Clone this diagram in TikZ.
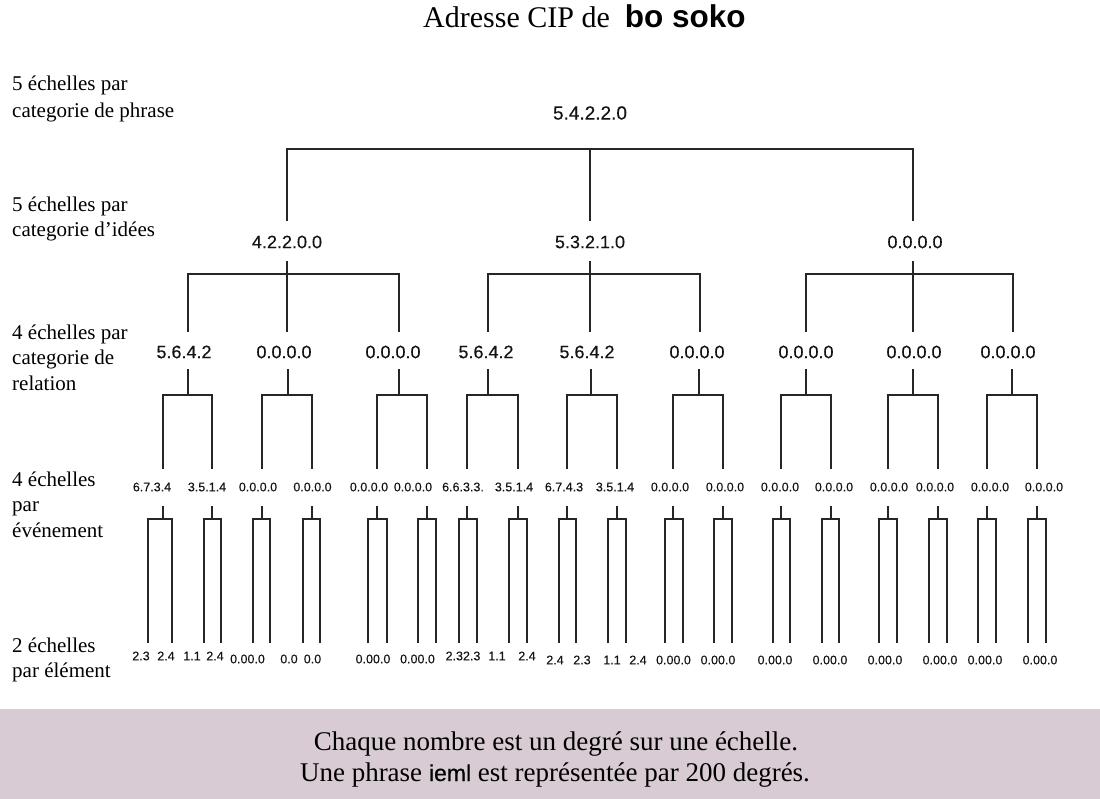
\documentclass[tikz,border=0pt]{standalone}
\usepackage{fontspec}
\setmainfont{Liberation Serif}
\newfontfamily\numfontb{Liberation Sans}[FakeBold=0.3]
\newfontfamily\numfonts{Liberation Sans}[FakeBold=0.2]
\newfontfamily\heavysans{Liberation Sans Bold}
\definecolor{boxfill}{HTML}{D8CBD3}
\definecolor{linecol}{HTML}{262626}
\definecolor{numcol}{HTML}{141414}
\begin{document}
\begin{tikzpicture}[x=1pt,y=-1pt,
  link/.style={line width=1.8pt,draw=linecol},
  bignum/.style={inner sep=0,text=numcol,font=\numfontb\fontsize{19}{19}\selectfont},
  num/.style={inner sep=0,text=numcol,font=\numfontb\fontsize{18}{18}\selectfont},
  smallnum/.style={inner sep=0,text=numcol,font=\numfonts\fontsize{12.5}{13}\selectfont},
  lab/.style={inner sep=0,anchor=base west,font=\fontsize{21}{25}\selectfont},
  foot/.style={inner sep=0,anchor=base,font=\fontsize{27}{31}\selectfont}]
\useasboundingbox (0,0) rectangle (1100,799);
% footer box
\fill[boxfill] (0,709) rectangle (1100,799);
\node[foot] (foot1) at (556,750) {Chaque nombre est un degré sur une échelle.};
\node[foot] (foot2) at (555,781) {Une phrase {\numfontb\fontsize{23}{27}\selectfont ieml} est représentée par 200 degrés.};
% title
\node[inner sep=0,anchor=base west] (title) at (423,28)
  {\fontsize{30}{30}\selectfont Adresse CIP de\hspace{15pt}{\heavysans\fontsize{31.5}{31.5}\selectfont bo soko}};
% left labels
\node[lab] (l1a) at (12,91) {5 échelles par};
\node[lab] (l1b) at (12,118) {categorie de phrase};
\node[lab] (l2a) at (12,212) {5 échelles par};
\node[lab] (l2b) at (12,237) {categorie d’idées};
\node[lab] (l3a) at (12,340) {4 échelles par};
\node[lab] (l3b) at (12,365) {categorie de};
\node[lab] (l3c) at (12,390) {relation};
\node[lab] (l4a) at (12,486) {4 échelles};
\node[lab] (l4b) at (12,511) {par};
\node[lab] (l4c) at (12,537) {événement};
\node[lab] (l5a) at (12,652) {2 échelles};
\node[lab] (l5b) at (12,677) {par élément};
% level 1
\node[bignum] (r) at (590,113) {5.4.2.2.0};
% level 2
\node[num] (a) at (287,242) {4.2.2.0.0};
\node[num] (b) at (590,242) {5.3.2.1.0};
\node[num] (c) at (915,242) {0.0.0.0};
% level 3
\foreach \n/\x/\t in {a1/184/5.6.4.2, a2/284/0.0.0.0, a3/393/0.0.0.0,
                      b1/486/5.6.4.2, b2/587/5.6.4.2, b3/697/0.0.0.0,
                      c1/806/0.0.0.0, c2/914/0.0.0.0, c3/1008/0.0.0.0}
  \node[num] (\n) at (\x,352) {\t};
% level 4
\foreach \n/\x/\t in {e1/152/6.7.3.4, e2/207/3.5.1.4, e3/258/0.0.0.0, e4/312.5/0.0.0.0,
                      e5/369/0.0.0.0, e6/413/0.0.0.0, e7/463/6.6.3.3., e8/514/3.5.1.4,
                      e9/564/6.7.4.3, e10/615/3.5.1.4, e11/670/0.0.0.0, e12/725/0.0.0.0,
                      e13/780/0.0.0.0, e14/834/0.0.0.0, e15/889/0.0.0.0, e16/935/0.0.0.0,
                      e17/990/0.0.0.0, e18/1044/0.0.0.0}
  \node[smallnum] (\n) at (\x,487) {\t};
% level 5
\foreach \n/\x/\y/\t in {f1/141/656/2.3, f2/166/656/2.4, f3/192/656/1.1, f4/215/656/2.4,
                         f5/247.5/659/0.00.0, f6/289/659/0.0, f7/312.5/659/0.0,
                         f8/373/659/0.00.0, f9/417.5/659/0.00.0,
                         f10/463/656/2.32.3, f11/497/656/1.1, f12/527/656/2.4,
                         f13/555/660/2.4, f14/582/660/2.3, f15/612/660/1.1, f16/638/660/2.4,
                         f17/673.5/660/0.00.0, f18/718/660/0.00.0,
                         f19/775/660/0.00.0, f20/830/660/0.00.0, f21/885/660/0.00.0,
                         f22/940/660/0.00.0, f23/985/660/0.00.0, f24/1040/660/0.00.0}
  \node[smallnum] (\n) at (\x,\y) {\t};
% level 1 -> 2 bracket
\draw[link] (287,221) -- (287,149) -- (913,149) -- (913,221);
\draw[link] (590,149) -- (590,221);
% level 2 -> 3 brackets
\foreach \s/\l/\m/\r in {287/188/287/399, 590/488/590/700, 913/806/913/1013}{
  \draw[link] (\s,261) -- (\s,274);
  \draw[link] (\l,332) -- (\l,274) -- (\r,274) -- (\r,332);
  \draw[link] (\m,274) -- (\m,332);
}
% level 3 -> 4 brackets
\foreach \s/\l/\r in {188/163/212, 288/262/312, 399/377/427, 488/467/518, 591/567/617,
                      699/673/723, 806/781/831, 913/888/938, 1012/987/1037}{
  \draw[link] (\s,369) -- (\s,395);
  \draw[link] (\l,469) -- (\l,395) -- (\r,395) -- (\r,469);
}
% level 4 -> 5 brackets
\foreach \s/\l/\r in {163/148/172, 212/204/221, 262/253/270, 312/303/320, 377/368/387,
                      427/418/436, 467/459/477, 518/509/527, 567/559/576, 617/608/626,
                      673/665/683, 723/714/732, 781/773/790, 831/822/839, 888/879/897,
                      938/929/947, 987/978/996, 1037/1028/1046}{
  \draw[link] (\s,506) -- (\s,519);
  \draw[link] (\l,643) -- (\l,519) -- (\r,519) -- (\r,643);
}
\end{tikzpicture}
\end{document}
